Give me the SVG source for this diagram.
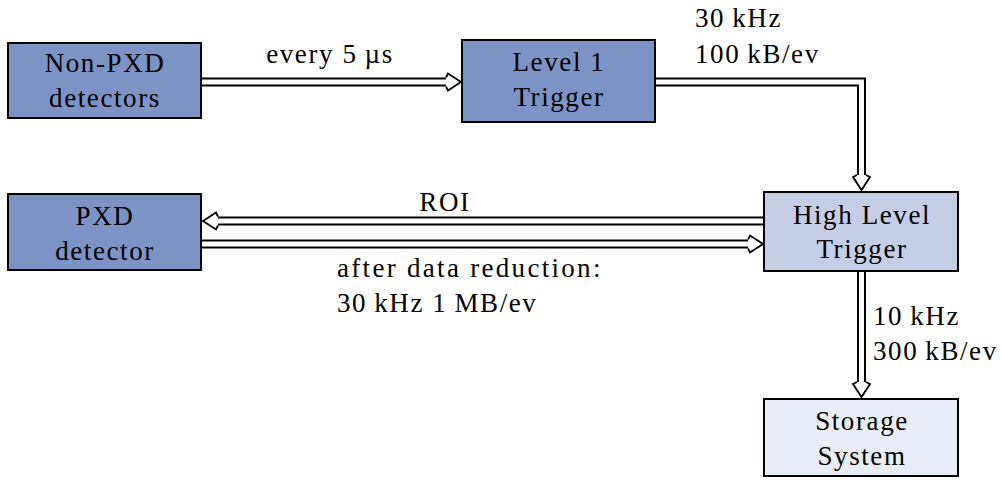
<svg xmlns="http://www.w3.org/2000/svg" xmlns:xlink="http://www.w3.org/1999/xlink" width="1002" height="481" viewBox="0 0 1002 481">
  <style>
    text { font-family: 'Liberation Serif', 'DejaVu Serif', serif; font-size: 27px; fill: #000; letter-spacing: 1.6px; }
    .c { text-anchor: middle; }
    .wide { letter-spacing: 2.3px; }
    .box { stroke: #000; stroke-width: 2; }
    .dark { fill: #7b93c5; }
    .mid { fill: #c6cee7; }
    .light { fill: #e9edf7; }
    .outer { fill: none; stroke: #000; stroke-width: 9; stroke-linejoin: miter; }
    .inner { fill: none; stroke: #fff; stroke-width: 5; stroke-linejoin: miter; }
    .head { fill: #fff; stroke: #000; stroke-width: 1.8; stroke-linejoin: miter; }
  </style>
  <defs>
    <!-- open "implies" style head, tip at the origin, pointing along +x -->
    <path id="imp" class="head" d="M-15,-4.5 L-13,-8.5 L0,0 L-13,8.5 L-15,4.5"/>
  </defs>

  <rect width="1002" height="481" fill="#fff"/>

  <g id="connectors">
    <!-- Non-PXD to Level 1 -->
    <path class="outer" d="M202,82 H446"/>
    <path class="inner" d="M200,82 H449"/>
    <use xlink:href="#imp" transform="translate(461,82)"/>
    <!-- Level 1 to High Level Trigger -->
    <path class="outer" d="M656,82 H861.5 V176"/>
    <path class="inner" d="M654,82 H861.5 V179"/>
    <use xlink:href="#imp" transform="translate(861.5,190) rotate(90)"/>
    <!-- ROI back to PXD -->
    <path class="outer" d="M763,221 H218"/>
    <path class="inner" d="M765,221 H215"/>
    <use xlink:href="#imp" transform="translate(203,221) rotate(180)"/>
    <!-- PXD data to High Level Trigger -->
    <path class="outer" d="M202,244 H748"/>
    <path class="inner" d="M200,244 H751"/>
    <use xlink:href="#imp" transform="translate(763,244)"/>
    <!-- High Level Trigger to storage -->
    <path class="outer" d="M861.5,272 V382"/>
    <path class="inner" d="M861.5,270 V385"/>
    <use xlink:href="#imp" transform="translate(861.5,397) rotate(90)"/>

    <text class="c" x="330" y="63">every 5&#8201;µs</text>
    <text x="695" y="27">30&#8201;kHz</text>
    <text x="695" y="63">100&#8201;kB/ev</text>
    <text class="c" x="445" y="211">ROI</text>
    <text class="wide" x="337" y="277">after data reduction:</text>
    <text x="337" y="312">30&#8201;kHz 1&#8201;MB/ev</text>
    <text x="873" y="325">10&#8201;kHz</text>
    <text x="873" y="360">300&#8201;kB/ev</text>
  </g>

  <g id="non-pxd">
    <rect class="box dark" x="8" y="43" width="193" height="75"/>
    <text class="c" x="105" y="72">Non-PXD</text>
    <text class="c" x="105" y="107">detectors</text>
  </g>

  <g id="level1">
    <rect class="box dark" x="462" y="40" width="193" height="82"/>
    <text class="c" x="559" y="71">Level 1</text>
    <text class="c" x="559" y="106">Trigger</text>
  </g>

  <g id="pxd">
    <rect class="box dark" x="8" y="194" width="193" height="76"/>
    <text class="c" x="105" y="225">PXD</text>
    <text class="c" x="105" y="260">detector</text>
  </g>

  <g id="hlt">
    <rect class="box mid" x="764" y="192" width="194" height="79"/>
    <text class="c" x="862" y="224">High Level</text>
    <text class="c" x="862" y="258">Trigger</text>
  </g>

  <g id="storage">
    <rect class="box light" x="764" y="399" width="194" height="77"/>
    <text class="c" x="862" y="430">Storage</text>
    <text class="c" x="862" y="465">System</text>
  </g>
</svg>
